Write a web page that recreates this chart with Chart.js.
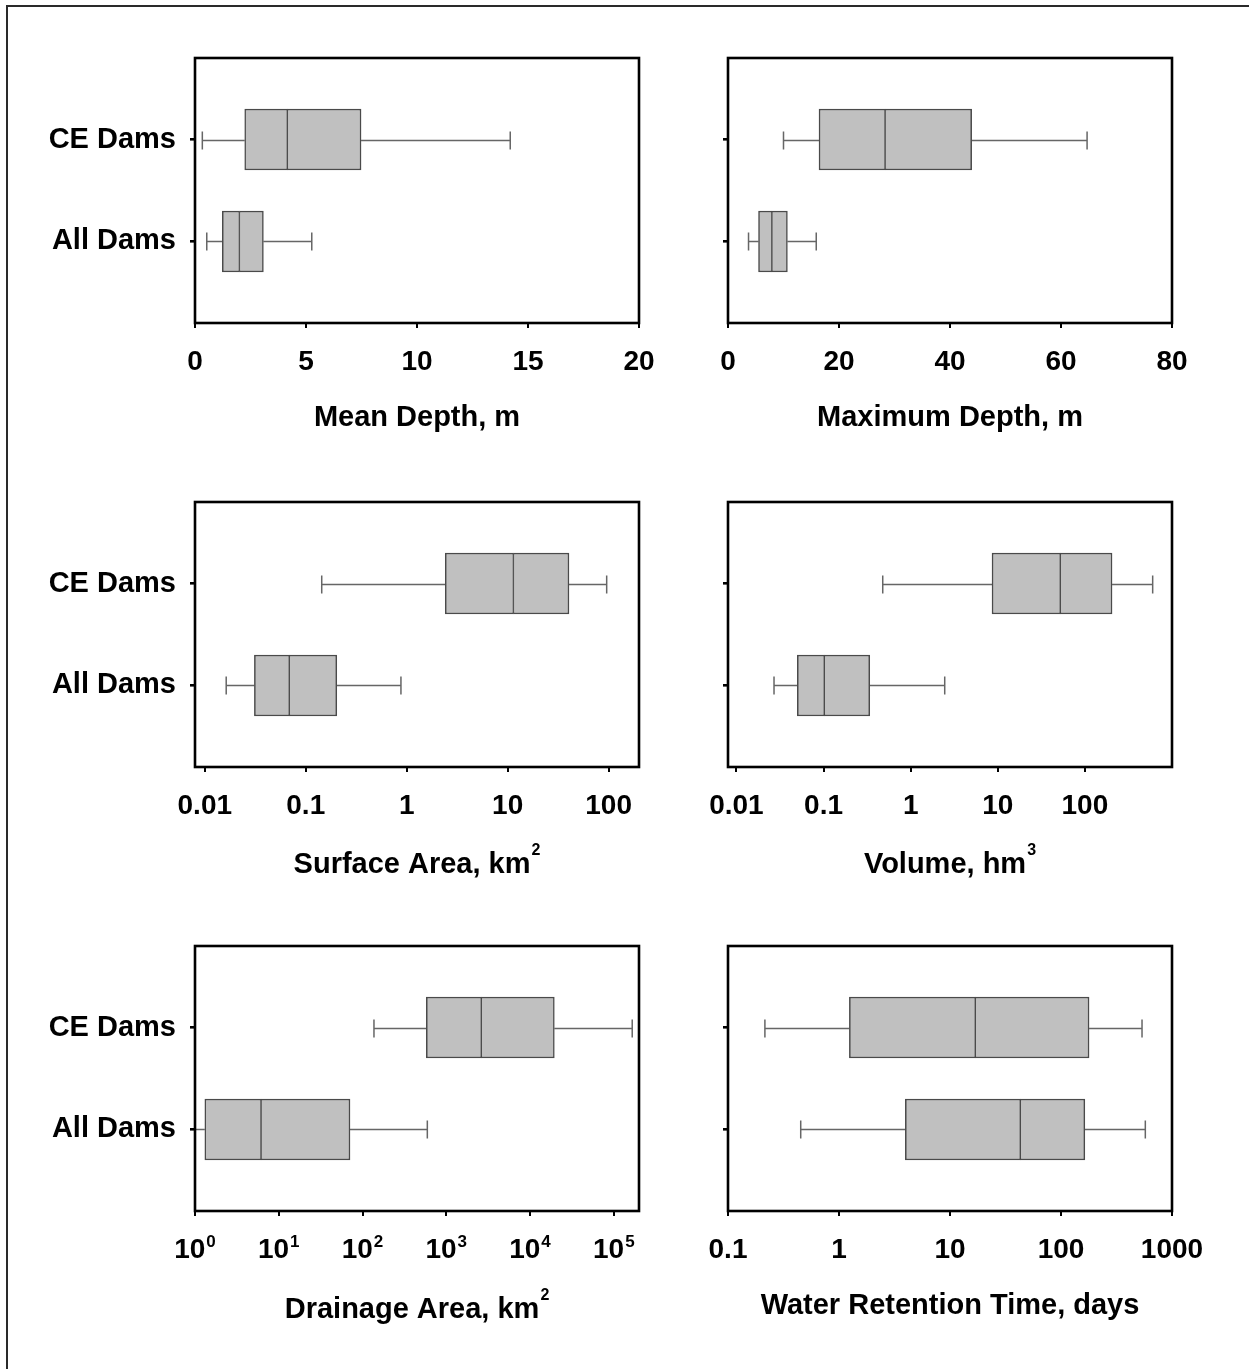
<!DOCTYPE html>
<html>
<head>
<meta charset="utf-8">
<script src="https://cdn.jsdelivr.net/npm/chart.js@4/dist/chart.umd.min.js"></script>
<style>
  html, body { margin: 0; padding: 0; background: #fff; overflow: hidden; width: 1249px; height: 1369px; }
  #frame { position: absolute; left: 6px; top: 5px; width: 1400px; height: 1500px;
           border-left: 2px solid #2a2a2a; border-top: 2px solid #2a2a2a; }
  canvas { position: absolute; }
</style>
</head>
<body>
<div id="frame"></div>
<script>
// Reservoir groups (top row first)
const groups = ['CE Dams', 'All Dams'];

// Five-number summaries: [min, q1, median, q3, max]
const meanDepthCE  = [0.33, 2.24, 4.16, 7.48, 14.2];
const meanDepthAll = [0.53, 1.23, 2.0, 3.08, 5.26];

const maxDepthCE  = [10.0, 16.4, 28.3, 43.9, 64.7];
const maxDepthAll = [3.7, 5.5, 7.9, 10.7, 15.9];

const surfaceAreaCE  = [0.144, 2.41, 11.4, 40.5, 95.7];
const surfaceAreaAll = [0.0163, 0.031, 0.0687, 0.203, 0.877];

const volumeCE  = [0.478, 8.59, 52.2, 205, 600];
const volumeAll = [0.027, 0.050, 0.102, 0.339, 2.46];

const drainageAreaCE  = [137, 578, 2620, 19500, 166000];
const drainageAreaAll = [1, 1.31, 6.14, 70.9, 594];

const retentionCE  = [0.215, 1.24, 16.9, 179, 537];
const retentionAll = [0.452, 3.96, 43.0, 164, 575];

// Axis ticks and labels
const meanDepthTicks   = [0, 5, 10, 15, 20];
const maxDepthTicks    = [0, 20, 40, 60, 80];
const surfaceAreaTicks = [0.01, 0.1, 1, 10, 100];
const volumeTicks      = [0.01, 0.1, 1, 10, 100];
const drainageTicks    = [1, 10, 100, 1000, 10000, 100000];
const drainageExponents = ['0', '1', '2', '3', '4', '5'];
const retentionTicks   = [0.1, 1, 10, 100, 1000];

const FONT = "'Liberation Sans', Arial, Helvetica, sans-serif";

const panels = [
  { title: 'Mean Depth, m', sup: '', titleOffset: 93, type: 'linear', min: 0, max: 20,
    ticks: meanDepthTicks, labels: meanDepthTicks.map(String), rows: [meanDepthCE, meanDepthAll] },
  { title: 'Maximum Depth, m', sup: '', titleOffset: 93, type: 'linear', min: 0, max: 80,
    ticks: maxDepthTicks, labels: maxDepthTicks.map(String), rows: [maxDepthCE, maxDepthAll] },
  { title: 'Surface Area, km', sup: '2', titleOffset: 96, type: 'logarithmic', min: 0.008, max: 200,
    ticks: surfaceAreaTicks, labels: surfaceAreaTicks.map(String), rows: [surfaceAreaCE, surfaceAreaAll] },
  { title: 'Volume, hm', sup: '3', titleOffset: 96, type: 'logarithmic', min: 0.008, max: 1000,
    ticks: volumeTicks, labels: volumeTicks.map(String), rows: [volumeCE, volumeAll] },
  { title: 'Drainage Area, km', sup: '2', titleOffset: 97, type: 'logarithmic', min: 1, max: 200000,
    ticks: drainageTicks, exponents: drainageExponents, rows: [drainageAreaCE, drainageAreaAll] },
  { title: 'Water Retention Time, days', sup: '', titleOffset: 93, type: 'logarithmic', min: 0.1, max: 1000,
    ticks: retentionTicks, labels: retentionTicks.map(String), rows: [retentionCE, retentionAll] }
];

// Whiskers and end caps, drawn underneath the boxes
const whiskers = {
  id: 'whiskers',
  beforeDatasetsDraw(chart, args, opts) {
    const { ctx, chartArea: a, scales: { x, y } } = chart;
    ctx.save();
    ctx.beginPath();
    ctx.rect(a.left, a.top, a.right - a.left, a.bottom - a.top);
    ctx.clip();
    ctx.strokeStyle = opts.color;
    ctx.lineWidth = opts.width;
    opts.rows.forEach((r, i) => {
      const py = Math.round(y.getPixelForValue(i + 1)) + 0.5;
      const [lo, q1, , q3, hi] = r.map(v => x.getPixelForValue(v));
      ctx.beginPath();
      ctx.moveTo(lo, py); ctx.lineTo(q1, py);
      ctx.moveTo(q3, py); ctx.lineTo(hi, py);
      ctx.moveTo(lo, py - opts.cap); ctx.lineTo(lo, py + opts.cap);
      ctx.moveTo(hi, py - opts.cap); ctx.lineTo(hi, py + opts.cap);
      ctx.stroke();
    });
    ctx.restore();
  }
};

// Heavy rectangle round the plotting area
const plotFrame = {
  id: 'plotFrame',
  afterDraw(chart) {
    const { ctx, chartArea: a } = chart;
    ctx.save();
    ctx.strokeStyle = '#000';
    ctx.lineWidth = 2.6;
    ctx.strokeRect(a.left, a.top, a.right - a.left, a.bottom - a.top);
    ctx.restore();
  }
};

// Text with a raised, smaller suffix (units and powers of ten)
function drawWithSup(ctx, text, sup, cx, baseline, size, supSize, rise) {
  ctx.font = `bold ${size}px ${FONT}`;
  const w1 = ctx.measureText(text).width;
  ctx.font = `bold ${supSize}px ${FONT}`;
  const w2 = sup ? ctx.measureText(sup).width + 1 : 0;
  const x0 = cx - (w1 + w2) / 2;
  ctx.textAlign = 'left';
  ctx.textBaseline = 'alphabetic';
  ctx.font = `bold ${size}px ${FONT}`;
  ctx.fillText(text, x0, baseline);
  if (sup) {
    ctx.font = `bold ${supSize}px ${FONT}`;
    ctx.fillText(sup, x0 + w1 + 1, baseline - rise);
  }
}

// Axis title under each panel
const axisTitle = {
  id: 'axisTitle',
  afterDraw(chart, args, o) {
    const { ctx, chartArea: a } = chart;
    ctx.save();
    ctx.fillStyle = '#000';
    drawWithSup(ctx, o.text, o.sup, (a.left + a.right) / 2, a.bottom + o.offset + 10.4, 29, 16, 18.5);
    ctx.restore();
  }
};

// Power-of-ten tick labels (10^n)
const powerTicks = {
  id: 'powerTicks',
  afterDraw(chart, args, o) {
    if (!o.exponents) return;
    const { ctx, chartArea: a, scales: { x } } = chart;
    ctx.save();
    ctx.fillStyle = '#000';
    o.values.forEach((v, i) => {
      drawWithSup(ctx, '10', o.exponents[i], x.getPixelForValue(v), a.bottom + 46.5, 28, 17, 11);
    });
    ctx.restore();
  }
};

const PLOT_W = 444, PLOT_H = 265, PAD_TOP = 45, X_AXIS_H = 130;
const plotTops = [58, 502, 946];
const plotLefts = [195, 728];
const yAxisW = [175, 40];
const padRight = [40, 50];

panels.forEach((p, idx) => {
  const col = idx % 2, row = Math.floor(idx / 2);
  const cv = document.createElement('canvas');
  const w = yAxisW[col] + PLOT_W + padRight[col];
  const h = PAD_TOP + PLOT_H + X_AXIS_H;
  cv.width = w; cv.height = h;
  cv.style.left = (plotLefts[col] - yAxisW[col]) + 'px';
  cv.style.top = (plotTops[row] - PAD_TOP) + 'px';
  cv.style.width = w + 'px'; cv.style.height = h + 'px';
  document.body.appendChild(cv);

  const boxStyle = {
    backgroundColor: '#c0c0c0',
    borderColor: '#4a4a4a',
    borderSkipped: false,
    barThickness: 61,
    grouped: false
  };

  new Chart(cv, {
    type: 'bar',
    data: {
      datasets: [
        Object.assign({
          label: 'lower',
          data: p.rows.map((r, i) => ({ y: i + 1, x: [r[1], r[2]] })),
          borderWidth: { top: 1.5, bottom: 1.5, left: 1.5, right: 1 }
        }, boxStyle),
        Object.assign({
          label: 'upper',
          data: p.rows.map((r, i) => ({ y: i + 1, x: [r[2], r[3]] })),
          borderWidth: { top: 1.5, bottom: 1.5, left: 1, right: 1.5 }
        }, boxStyle)
      ]
    },
    options: {
      indexAxis: 'y',
      responsive: false,
      animation: false,
      devicePixelRatio: 1,
      layout: { padding: { top: PAD_TOP, right: padRight[col], bottom: 0, left: 0 } },
      plugins: {
        legend: { display: false },
        tooltip: { enabled: false },
        whiskers: { rows: p.rows, color: '#666', width: 1.5, cap: 9 },
        axisTitle: { text: p.title, sup: p.sup, offset: p.titleOffset },
        powerTicks: { values: p.ticks, exponents: p.exponents }
      },
      scales: {
        x: {
          type: p.type,
          min: p.min,
          max: p.max,
          offset: false,
          afterBuildTicks: s => { s.ticks = p.ticks.map(v => ({ value: v })); },
          afterFit: s => { s.height = X_AXIS_H; },
          ticks: {
            display: !p.exponents,
            callback: (v) => p.labels ? p.labels[p.ticks.indexOf(v)] : '',
            color: '#000',
            font: { family: FONT, size: 28, weight: 'bold', lineHeight: 1.2 },
            padding: 17,
            maxRotation: 0,
            autoSkip: false
          },
          grid: { drawOnChartArea: false, offset: false, color: '#000', lineWidth: 2, tickLength: 5 },
          border: { display: false },
          title: { display: false }
        },
        y: {
          type: 'linear',
          min: 0.2,
          max: 2.8,
          reverse: true,
          offset: false,
          afterBuildTicks: s => { s.ticks = [{ value: 1 }, { value: 2 }]; },
          afterFit: s => { s.width = yAxisW[col]; },
          ticks: {
            display: col === 0,
            callback: (v) => groups[v - 1],
            color: '#000',
            font: { family: FONT, size: 29, weight: 'bold', lineHeight: 1.2 },
            padding: 14
          },
          grid: { drawOnChartArea: false, offset: false, color: '#000', lineWidth: 2.6, tickLength: 5 },
          border: { display: false }
        }
      }
    },
    plugins: [whiskers, plotFrame, axisTitle, powerTicks]
  });
});
</script>
</body>
</html>
